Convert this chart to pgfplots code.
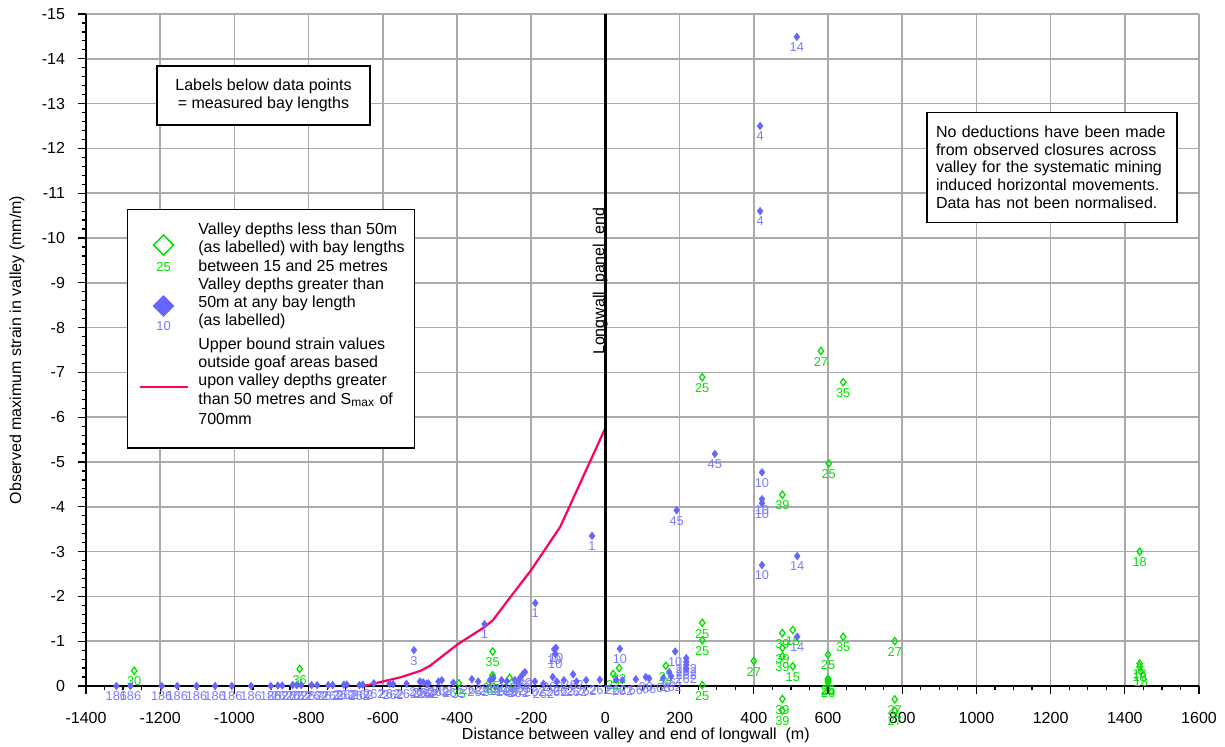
\documentclass[border=0pt]{standalone}
\usepackage{fontspec}
\setmainfont{Liberation Sans}
\usepackage{pgfplots}
\pgfplotsset{compat=1.18}
\usepackage{pgfplotstable}

\definecolor{bluep}{RGB}{102,102,255}
\definecolor{bluel}{RGB}{122,122,255}
\definecolor{greenp}{RGB}{0,225,0}
\definecolor{pinkl}{RGB}{255,0,102}
\definecolor{gridc}{RGB}{170,170,170}

% Valley depths < 50 m (open green diamonds): x, strain (mm/m), bay length label
\pgfplotstableread{
x y lab
-1270 -0.34 30
-824 -0.38 36
-395 -0.06 35
-304 -0.77 35
-304 -0.24 35
-304 -0.18 33
-258 -0.18 15
21 -0.27 22
37 -0.40 22
163 -0.45 22
261 -6.89 25
261 -1.41 25
261 -1.02 25
261 -0.02 25
400 -0.56 27
477 -4.27 39
477 -1.18 39
505 -1.25 15
477 -0.85 39
477 -0.66 39
505 -0.44 15
477 0.29 39
477 0.55 39
581 -7.48 27
641 -6.78 35
602 -4.97 25
600 -0.70 25
600 -0.16 25
600 -0.12 25
600 -0.08 26
641 -1.10 35
780 -1.00 27
780 0.30 27
780 0.55 27
1440 -3.00 18
1440 -0.50 18
1440 -0.43 18
1443 -0.32 18
}\greendata

% Valley depths > 50 m (filled blue diamonds)
\pgfplotstableread{
x y lab
516 -14.49 14
417 -12.50 4
417 -10.60 4
295 -5.18 45
422 -4.77 10
422 -4.17 10
422 -4.08 10
192 -3.92 45
422 -2.70 10
517 -2.90 14
-36 -3.35 1
-189 -1.85 1
-326 -1.38 1
-516 -0.80 3
-138 -0.82 10
-133 -0.85 10
-135 -0.72 10
39 -0.83 10
188 -0.77 10
218 -0.62 262
218 -0.54 262
218 -0.47 262
218 -0.39 262
517 -1.10 14
-1318 0 186
-1280 0 186
-1196 0 186
-1154 0 186
-1102 0 186
-1052 0 186
-1007 0 186
-955 0 186
-902 0 186
-883 -0.01 262
-871 -0.01 262
-843 -0.02 262
-832 -0.02 262
-820 -0.02 262
-792 -0.02 262
-777 -0.02 262
-747 -0.02 262
-735 -0.02 262
-705 -0.03 262
-697 -0.03 262
-663 -0.02 262
-654 -0.03 262
-624 -0.06 262
-582 -0.05 262
-572 -0.04 262
-536 -0.05 262
-500 -0.10 262
-491 -0.08 262
-482 -0.05 262
-477 -0.06 262
-450 -0.10 262
-441 -0.13 262
-410 -0.07 262
-360 -0.15 262
-343 -0.10 262
-311 -0.13 262
-302 -0.18 262
-280 -0.13 262
-266 -0.10 262
-244 -0.13 262
-235 -0.07 262
-230 -0.18 262
-223 -0.26 262
-217 -0.31 20
-190 -0.10 262
-167 -0.05 262
-142 -0.20 262
-131 -0.10 262
-112 -0.13 262
-87 -0.26 262
-78 -0.10 262
-52 -0.13 262
-15 -0.14 262
29 -0.14 262
46 -0.13 262
82 -0.15 66
109 -0.20 66
118 -0.17 66
156 -0.18 66
172 -0.31 66
177 -0.22 262
}\bluedata

% Upper bound strain curve
\pgfplotstableread{
x y
-650 0
-550 -0.20
-498 -0.34
-473 -0.45
-400 -0.92
-325 -1.32
-303 -1.47
-262 -1.92
-200 -2.59
-122 -3.55
0 -5.76
}\bounddata

% Longwall panel end
\pgfplotstableread{
x y
0 0
0 -15
}\enddata

\begin{document}
\begin{tikzpicture}
\path[use as bounding box] (-43pt,-30.5pt) rectangle (569.5pt,343pt);
\begin{axis}[
  at={(0,0)}, anchor=south west,
  scale only axis, width=556.5pt, height=336pt,
  xmin=-1400, xmax=1600, ymin=0, ymax=15,
  axis x line*=bottom, axis y line*=left,
  axis line style={black, line width=0.7pt},
  xtick={-1400,-1200,-1000,-800,-600,-400,-200,0,200,400,600,800,1000,1200,1400,1600},
  xticklabels={-1400,-1200,-1000,-800,-600,-400,-200,0,200,400,600,800,1000,1200,1400,1600},
  ytick={0,1,2,3,4,5,6,7,8,9,10,11,12,13,14,15},
  yticklabels={0,-1,-2,-3,-4,-5,-6,-7,-8,-9,-10,-11,-12,-13,-14,-15},
  minor x tick num=3, minor y tick num=4,
  tick align=outside,
  major tick length=4pt, minor tick length=2.2pt,
  tick style={black, line width=0.6pt},
  grid=major, major grid style={gridc, line width=0.75pt},
  clip=false,
  tick label style={font=\fontsize{8}{9}\selectfont},
  xticklabel style={yshift=-5.5pt},
  yticklabel style={xshift=-3pt},
  xlabel={Distance between valley and end of longwall\ \ (m)},
  ylabel={Observed maximum strain in valley (mm/m)},
  xlabel style={font=\fontsize{8}{9}\selectfont, at={(axis description cs:0.494,0)}, anchor=center, yshift=-24.5pt},
  ylabel style={font=\fontsize{8}{9}\selectfont, at={(axis description cs:-0.062,0.5)}, anchor=center},
  legend style={at={(axis description cs:0.0365,0.7098)}, anchor=north west,
    draw=black, line width=0.6pt, fill=white,
    font=\fontsize{8}{9.15}\selectfont,
    inner xsep=3pt, inner ysep=6pt, row sep=0pt,
    nodes={inner ysep=0pt, text depth=}},
  legend cell align=left,
]

\addplot[only marks, mark=diamond, mark size=1.8pt,
  mark options={draw=greenp, line width=0.65pt, fill=none},
  point meta=explicit symbolic, nodes near coords, nodes near coords align={below},
  every node near coord/.append style={font=\fontsize{6.4}{7}\selectfont, text=greenp, inner sep=0.5pt, yshift=-2.3pt},
  legend image code/.code={
    \path (0pt,0pt) (29.5pt,0pt);
    \draw[greenp, line width=0.75pt] (14.6pt,7pt) -- (19.6pt,2pt) -- (14.6pt,-3pt) -- (9.6pt,2pt) -- cycle;
    \node[anchor=center, text=greenp, font=\fontsize{6.5}{7}\selectfont, inner sep=0pt] at (14.6pt,-9pt) {25};
  }]
  table[x=x, y expr={-1*(\thisrow{y})}, meta=lab] {\greendata};
\addlegendentry{\begin{tabular}{@{}l@{}}Valley depths less than 50m\\(as labelled) with bay lengths\\between 15 and 25 metres\end{tabular}}

\addplot[only marks, mark=diamond*, mark size=1.8pt,
  mark options={draw=bluep, fill=bluep},
  point meta=explicit symbolic, nodes near coords, nodes near coords align={below},
  every node near coord/.append style={font=\fontsize{6.4}{7}\selectfont, text=bluel, inner sep=0.5pt, yshift=-2.3pt},
  legend image code/.code={
    \path (0pt,0pt) (29.5pt,0pt);
    \fill[bluep] (14.6pt,4pt) -- (19.6pt,-1pt) -- (14.6pt,-6pt) -- (9.6pt,-1pt) -- cycle;
    \node[anchor=center, text=bluel, font=\fontsize{6.5}{7}\selectfont, inner sep=0pt] at (14.6pt,-11pt) {10};
  }]
  table[x=x, y expr={-1*(\thisrow{y})}, meta=lab] {\bluedata};
\addlegendentry{\begin{tabular}{@{}l@{}}Valley depths greater than\\50m at any bay length\\(as labelled)\end{tabular}}

\addplot[pinkl, line width=1.1pt, no marks,
  legend image code/.code={
    \path (0pt,0pt) (29.5pt,0pt);
    \draw[pinkl, line width=1.1pt] (2.7pt,-1.5pt) -- (26.7pt,-1.5pt);
  }]
  table[x=x, y expr={-1*(\thisrow{y})}] {\bounddata};
\addlegendentry{\begin{tabular}{@{}l@{}}\rule{0pt}{8.9pt}Upper bound strain values\\outside goaf areas based\\upon valley depths greater\\than 50 metres and S\textsubscript{max} of\\[1pt]700mm\rule[-5.8pt]{0pt}{1pt}\end{tabular}}

\addplot[black, line width=1.2pt, no marks, forget plot]
  table[x=x, y expr={-1*(\thisrow{y})}] {\enddata};

\node[rotate=90, anchor=base, inner sep=0pt, font=\fontsize{8}{9}\selectfont]
  at (axis cs:-3,9.03) {Longwall\ \ panel\ \ end};

\node[draw=black, line width=0.6pt, fill=white, align=center,
  minimum width=106.5pt, minimum height=29.5pt,
  font=\fontsize{8}{9}\selectfont]
  at (axis cs:-921.6,13.18) {Labels below data points\\= measured bay lengths};

\node[draw=black, line width=0.6pt, fill=white, align=left,
  text width=116pt, inner xsep=4.5pt, minimum height=55pt,
  font=\fontsize{8}{8.95}\selectfont]
  at (axis cs:1203.8,11.58) {No deductions have been made\\from observed closures across\\valley for the systematic mining\\induced horizontal movements.\\Data has not been normalised.};

\end{axis}
\end{tikzpicture}
\end{document}
